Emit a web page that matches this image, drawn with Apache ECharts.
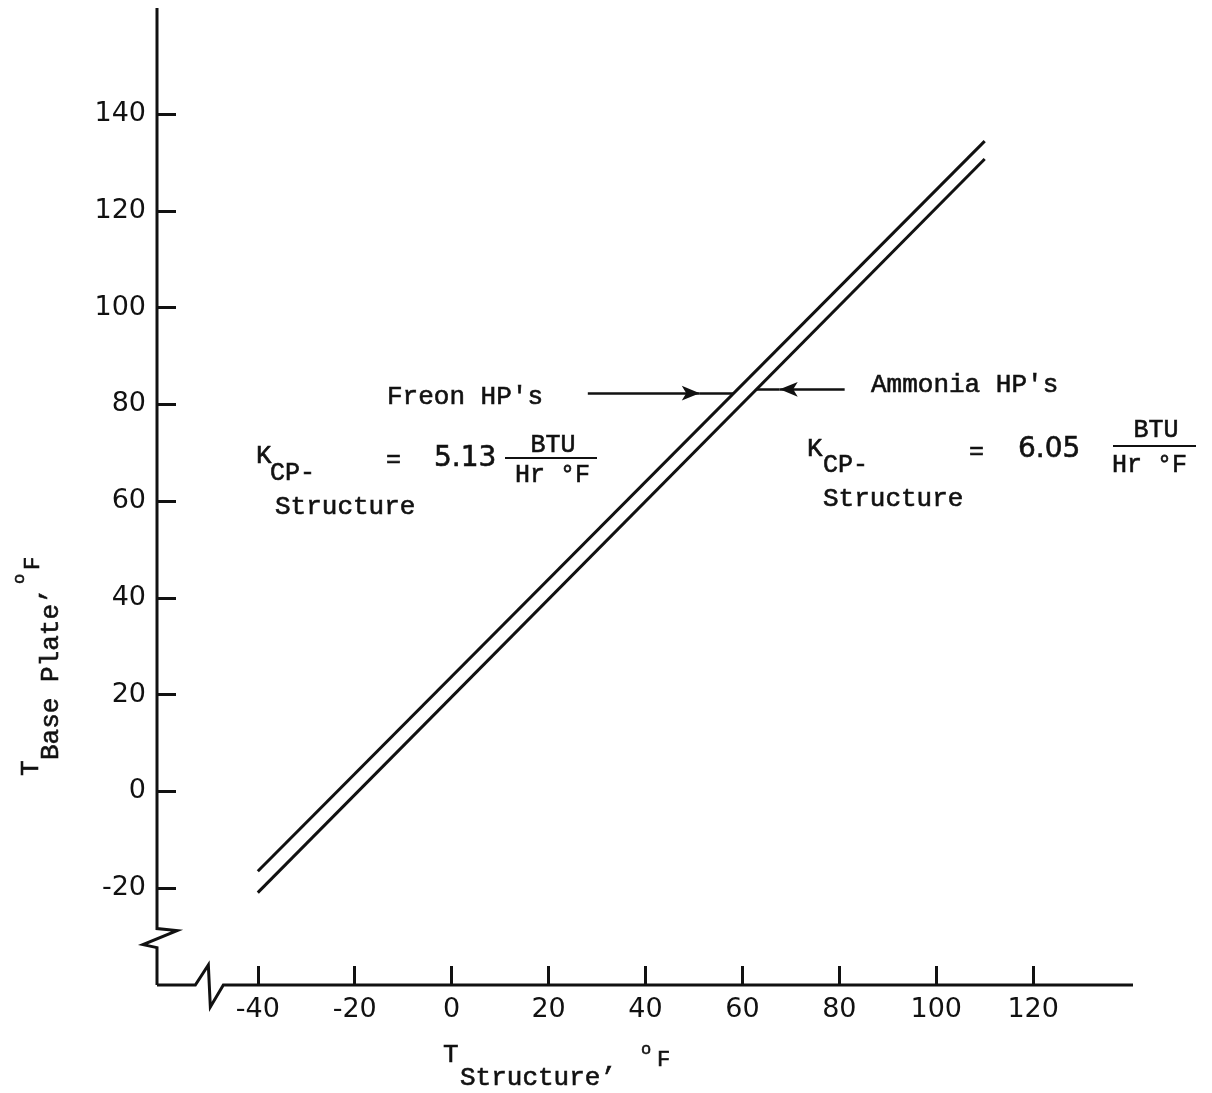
<!DOCTYPE html>
<html>
<head>
<meta charset="utf-8">
<script src="https://cdn.jsdelivr.net/npm/echarts@6/dist/echarts.min.js"></script>
<style>
  html, body { margin: 0; padding: 0; background: #fff; }
  #chart { width: 1212px; height: 1093px; }
</style>
</head>
<body>
<div id="chart"></div>
<script>
// Tick values shown on each axis
const xTickValues = [-40, -20, 0, 20, 40, 60, 80, 100, 120];
const yTickValues = [-20, 0, 20, 40, 60, 80, 100, 120, 140];

// T_Structure (°F) at the ends of each straight line
const tStructure = [-40, 110];
// T_Base Plate (°F) for each heat-pipe type
const freonBasePlate = [-16.5, 134.4];
const ammoniaBasePlate = [-20.9, 130.7];

// Pointer arrows (data coordinates): tail, arrow head, end on the line
const freonPointer = { tail: [28.1, 82.3], head: [51.2, 82.3], end: [58.2, 82.3] };
const ammoniaPointer = { tail: [81.1, 83.1], head: [67.7, 83.1], end: [62.9, 83.1] };

// Axis extents and where the broken-scale zigzags sit
const xRange = [-60.8, 140.6];
const yRange = [-40, 161.9];
const xBreakAt = -50;
const yBreakAt = -30;

const INK = '#111';
const MONO = '"Liberation Mono", "DejaVu Sans Mono", monospace';
const SANS = '"DejaVu Sans", "Noto Sans", sans-serif';

function pairs(xs, ys) { return xs.map((x, i) => [x, ys[i]]); }

function pointerLines(p) {
  return [
    [{ coord: p.tail, symbol: 'none' }, { coord: p.head, symbol: 'arrow', symbolSize: [11, 18] }],
    [{ coord: p.head, symbol: 'none' }, { coord: p.end, symbol: 'none' }]
  ];
}

function lineSeries(name, ys, pointer) {
  return {
    name: name,
    type: 'line',
    data: pairs(tStructure, ys),
    symbol: 'none',
    silent: true,
    animation: false,
    lineStyle: { color: INK, width: 3 },
    markLine: {
      silent: true,
      animation: false,
      symbol: ['none', 'none'],
      label: { show: false },
      lineStyle: { color: INK, width: 2.5, type: 'solid' },
      data: pointerLines(pointer)
    }
  };
}

function axisCommon(range, ticks) {
  return {
    type: 'value',
    min: range[0],
    max: range[1],
    axisLine: { show: false, onZero: false },
    splitLine: { show: false },
    axisTick: {
      show: true, inside: true, length: 19,
      customValues: ticks,
      lineStyle: { color: INK, width: 3 }
    },
    axisLabel: {
      customValues: ticks,
      margin: 11,
      fontFamily: SANS, fontSize: 27, color: INK,
      formatter: v => String(v)
    }
  };
}

const chart = echarts.init(document.getElementById('chart'), null, { renderer: 'canvas' });

chart.setOption({
  backgroundColor: '#fff',
  animation: false,
  grid: { left: 157, right: 79, top: 8, bottom: 108, containLabel: false },
  xAxis: axisCommon(xRange, xTickValues),
  yAxis: axisCommon(yRange, yTickValues),
  series: [
    lineSeries("Freon HP's", freonBasePlate, freonPointer),
    lineSeries("Ammonia HP's", ammoniaBasePlate, ammoniaPointer)
  ]
});

// Axis lines with broken-scale zigzags, placed from the axis extents
const px = p => chart.convertToPixel({ gridIndex: 0 }, p);
const origin = px([xRange[0], yRange[0]]);
const yTop = px([xRange[0], yRange[1]]);
const xEnd = px([xRange[1], yRange[0]]);
const yBrk = px([xRange[0], yBreakAt])[1];
const xBrk = px([xBreakAt, yRange[0]])[0];
const ax = origin[0], ay = origin[1];

const yAxisPath = [
  [ax, yTop[1]], [ax, yBrk - 8], [ax + 20, yBrk - 6],
  [ax - 14, yBrk + 8], [ax, yBrk + 11], [ax, ay]
];
const xAxisPath = [
  [ax, ay], [xBrk - 14, ay], [xBrk - 1, ay - 20],
  [xBrk + 1, ay + 22], [xBrk + 14, ay], [xEnd[0], ay]
];

function txt(text, x, y, size, family, extra) {
  return {
    type: 'text', x: x, y: y, silent: true,
    style: Object.assign({
      text: text, fill: INK,
      font: size + 'px ' + family,
      stroke: INK, lineWidth: 0.6,
      textAlign: 'left', textVerticalAlign: 'middle'
    }, extra || {})
  };
}

function rule(x1, x2, y) {
  return { type: 'line', silent: true, shape: { x1: x1, y1: y, x2: x2, y2: y }, style: { stroke: INK, lineWidth: 2 } };
}

const graphics = [
  { type: 'polyline', silent: true, shape: { points: yAxisPath }, style: { stroke: INK, lineWidth: 3, fill: null, lineJoin: 'miter' } },
  { type: 'polyline', silent: true, shape: { points: xAxisPath }, style: { stroke: INK, lineWidth: 3, fill: null, lineJoin: 'miter' } },

  // Freon block
  txt("Freon HP's", 387, 397, 26, MONO),
  txt('K', 256, 456, 26, MONO),
  txt('CP-', 270, 473, 25, MONO),
  txt('=', 386, 460, 25, MONO),
  txt('5.13', 434, 459, 28, SANS),
  txt('BTU', 553, 445, 25, MONO, { textAlign: 'center' }),
  rule(505, 597, 458),
  txt('Hr \u00B0F', 515, 475, 25, MONO),
  txt('Structure', 275, 507, 26, MONO),

  // Ammonia block
  txt("Ammonia HP's", 871, 385, 26, MONO),
  txt('K', 807, 449, 26, MONO),
  txt('CP-', 823, 465, 25, MONO),
  txt('=', 969, 452, 25, MONO),
  txt('6.05', 1018, 450, 28, SANS),
  txt('BTU', 1156, 430, 25, MONO, { textAlign: 'center' }),
  rule(1113, 1196, 446),
  txt('Hr \u00B0F', 1112, 465, 25, MONO),
  txt('Structure', 823, 499, 26, MONO),

  // X axis title: T_Structure', °F
  txt('T', 443, 1055, 26, MONO),
  txt('Structure\u2019', 460, 1078, 26, MONO),
  txt('o', 641, 1049, 17, MONO),
  txt('F', 657, 1060, 22, MONO),

  // Y axis title, reading bottom to top: T_Base Plate', °F
  {
    type: 'group', x: 31, y: 776, rotation: Math.PI / 2, silent: true,
    children: [
      txt('T', 0, 0, 26, MONO),
      txt('Base Plate\u2019', 16, 20, 26, MONO),
      txt('o', 192, -12, 17, MONO),
      txt('F', 206, 2, 22, MONO)
    ]
  }
];

chart.setOption({ graphic: graphics });
</script>
</body>
</html>
